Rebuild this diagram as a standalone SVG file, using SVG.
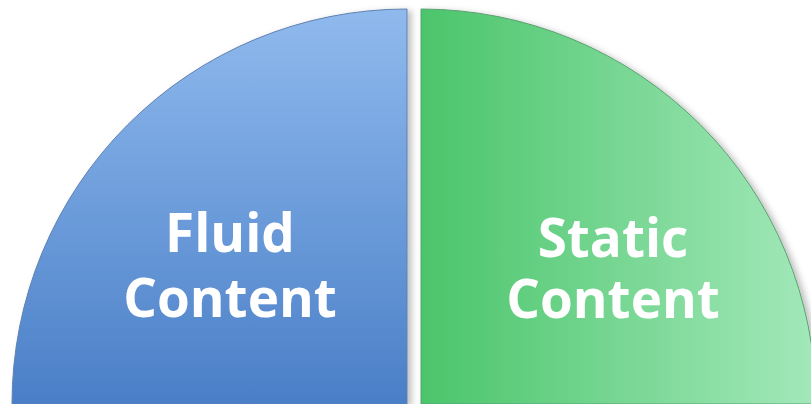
<svg xmlns="http://www.w3.org/2000/svg" width="811" height="404" viewBox="0 0 811 404">
<defs>
<linearGradient id="gBlue" x1="0" y1="0" x2="0" y2="1">
<stop offset="0" stop-color="#90baee"/>
<stop offset="1" stop-color="#4a7fc7"/>
</linearGradient>
<linearGradient id="gGreen" x1="0" y1="0" x2="1" y2="0">
<stop offset="0" stop-color="#4bc56b"/>
<stop offset="1" stop-color="#a3e8ba"/>
</linearGradient>
<filter id="sh" x="-10%" y="-10%" width="120%" height="120%">
<feDropShadow dx="4" dy="2" stdDeviation="3" flood-color="#000" flood-opacity="0.25"/>
</filter>
</defs>
<style>
.lbl{font-family:"Open Sans","Liberation Sans",sans-serif;font-weight:700;font-size:53px;fill:#ffffff;text-anchor:middle}
</style>
<rect width="811" height="404" fill="#ffffff"/>
<g id="fluid">
<path d="M407,9 L407,404 L12,404 A395,395 0 0 1 407,9 Z" fill="url(#gBlue)" stroke="#5d80b0" stroke-width="1" filter="url(#sh)"/>
<text class="lbl"><tspan x="230" y="252">Fluid</tspan><tspan x="230" y="317">Content</tspan></text>
</g>
<g id="static">
<path d="M421,9 A395,395 0 0 1 816,404 L421,404 Z" fill="url(#gGreen)" stroke="#5aa070" stroke-width="1" filter="url(#sh)"/>
<text class="lbl"><tspan x="613" y="257">Static</tspan><tspan x="613" y="318">Content</tspan></text>
</g>
<g id="connectors"/>
</svg>
